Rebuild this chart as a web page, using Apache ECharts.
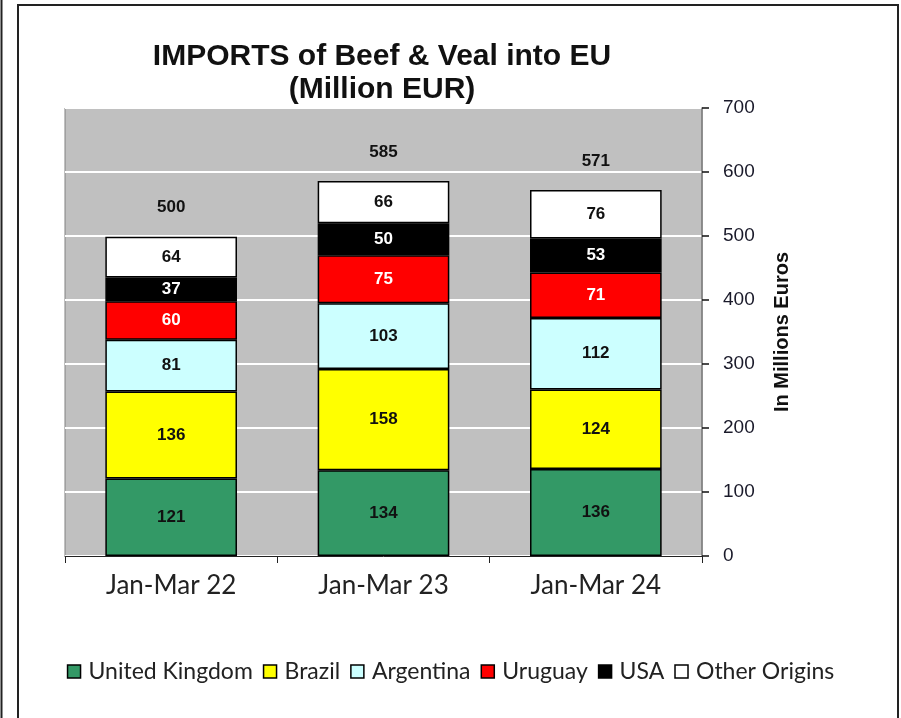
<!DOCTYPE html>
<html>
<head>
<meta charset="utf-8">
<script src="https://cdn.jsdelivr.net/npm/echarts@6/dist/echarts.min.js"></script>
<style>
  html, body { margin: 0; padding: 0; background: #fff; }
  #chart { width: 901px; height: 718px; }
</style>
</head>
<body>
<div id="chart"></div>
<script>
const categories = ['Jan-Mar 22', 'Jan-Mar 23', 'Jan-Mar 24'];
const unitedKingdom = [121, 134, 136];
const brazil = [136, 158, 124];
const argentina = [81, 103, 112];
const uruguay = [60, 75, 71];
const usa = [37, 50, 53];
const otherOrigins = [64, 66, 76];
const totals = [500, 585, 571];
const yTicks = [0, 100, 200, 300, 400, 500, 600, 700];

const chart = echarts.init(document.getElementById('chart'));

function segment(name, data, color, labelColor) {
  return {
    name: name,
    type: 'bar',
    stack: 'imports',
    barWidth: '62%',
    data: data,
    itemStyle: { color: color, borderColor: '#000', borderWidth: 1.5 },
    label: {
      show: true,
      position: 'inside',
      color: labelColor,
      fontFamily: 'Liberation Sans, Arial, sans-serif',
      fontWeight: 'bold',
      fontSize: 17
    }
  };
}

const option = {
  animation: false,
  backgroundColor: '#fff',
  title: {
    text: 'IMPORTS of Beef & Veal into EU\n(Million EUR)',
    left: 377,
    top: 35,
    textAlign: 'center',
    textStyle: {
      fontFamily: 'Liberation Sans, Arial, sans-serif',
      fontWeight: 'bold',
      fontSize: 30,
      lineHeight: 33,
      color: '#111'
    }
  },
  graphic: [
    { type: 'line', shape: { x1: 1.5, y1: 0, x2: 1.5, y2: 718 }, style: { stroke: '#222', lineWidth: 2 } },
    { type: 'rect', shape: { x: 18, y: 5, width: 880, height: 730 }, style: { fill: 'none', stroke: '#222', lineWidth: 2 } }
  ],
  legend: {
    data: ['United Kingdom', 'Brazil', 'Argentina', 'Uruguay', 'USA', 'Other Origins'],
    left: 'center',
    top: 655,
    icon: 'rect',
    itemWidth: 13,
    itemHeight: 13,
    itemGap: 10,
    itemStyle: { borderColor: '#000', borderWidth: 1.5 },
    textStyle: { fontFamily: 'Lato, sans-serif', fontSize: 23, color: '#222', padding: [0, 0, 0, 3] }
  },
  grid: {
    left: 65,
    right: 199,
    top: 108,
    bottom: 162,
    show: true,
    backgroundColor: '#C0C0C0',
    borderColor: '#808080',
    borderWidth: 1
  },
  xAxis: {
    type: 'category',
    data: categories,
    axisLine: { show: true, lineStyle: { color: '#222', width: 1 } },
    axisTick: { show: true, alignWithLabel: false, length: 7, lineStyle: { color: '#222' } },
    axisLabel: { fontFamily: 'Lato, sans-serif', fontSize: 26, color: '#222', margin: 17 }
  },
  yAxis: {
    type: 'value',
    position: 'right',
    min: 0,
    max: 700,
    interval: 100,
    name: 'In Millions Euros',
    nameLocation: 'middle',
    nameRotate: 90,
    nameGap: 70,
    nameTextStyle: {
      fontFamily: 'Liberation Sans, Arial, sans-serif',
      fontWeight: 'bold',
      fontSize: 20,
      color: '#111'
    },
    axisLine: { show: true, lineStyle: { color: '#808080', width: 1.5 } },
    axisTick: { show: true, inside: false, length: 7, lineStyle: { color: '#111', width: 1.5 } },
    axisLabel: {
      fontFamily: 'Liberation Sans, Arial, sans-serif',
      fontSize: 19,
      color: '#1a1a2a',
      margin: 21,
      formatter: function (v) { return yTicks.indexOf(v) >= 0 ? String(v) : ''; }
    },
    splitLine: { show: true, lineStyle: { color: '#fff', width: 2 } }
  },
  series: [
    segment('United Kingdom', unitedKingdom, '#339966', '#111'),
    segment('Brazil', brazil, '#FFFF00', '#111'),
    segment('Argentina', argentina, '#CCFFFF', '#111'),
    segment('Uruguay', uruguay, '#FF0000', '#fff'),
    segment('USA', usa, '#000000', '#fff'),
    segment('Other Origins', otherOrigins, '#FFFFFF', '#111'),
    {
      name: 'Total',
      type: 'line',
      data: totals,
      symbol: 'circle',
      symbolSize: 1,
      itemStyle: { color: 'rgba(0,0,0,0)' },
      lineStyle: { width: 0, opacity: 0 },
      label: {
        show: true,
        position: 'top',
        distance: 20,
        color: '#111',
        fontFamily: 'Liberation Sans, Arial, sans-serif',
        fontWeight: 'bold',
        fontSize: 17
      },
      z: 5
    }
  ]
};

chart.setOption(option);
</script>
</body>
</html>
